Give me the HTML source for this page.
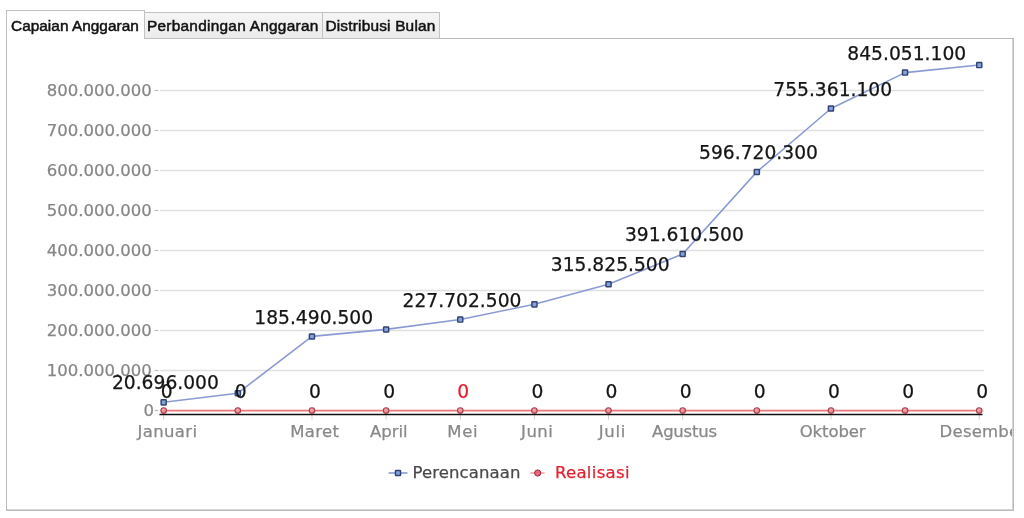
<!DOCTYPE html>
<html><head><meta charset="utf-8"><title>Capaian Anggaran</title>
<style>
html,body{margin:0;padding:0;background:#fff;}
body{width:1024px;height:518px;position:relative;overflow:hidden;font-family:"Liberation Sans",sans-serif;}
.tabs{position:absolute;left:0;top:0;height:40px;}
.tab{position:absolute;box-sizing:border-box;border:1px solid #c2c2c2;color:#111;font-size:15.4px;white-space:nowrap;line-height:20px;-webkit-text-stroke:0.5px #111;}
.tab.on{left:6px;top:10px;width:139px;height:29px;background:#fff;border-bottom:none;z-index:3;padding:5px 0 0 4px;letter-spacing:0.02px;}
.tab.t2{left:144px;top:12px;width:179px;height:27px;background:linear-gradient(#f5f5f5,#ebebeb);z-index:2;padding:3px 0 0 1.9px;letter-spacing:0.27px;}
.tab.t3{left:322px;top:12px;width:118px;height:27px;background:linear-gradient(#f5f5f5,#ebebeb);z-index:2;padding:3px 0 0 2.4px;letter-spacing:0.2px;}
.panel{position:absolute;left:6px;top:38px;width:1008px;height:473px;box-sizing:border-box;border:1px solid #b9b9b9;border-right-color:#bcbcbc;border-bottom-color:#bcbcbc;background:#fff;overflow:hidden;z-index:1;}
.panel:after{content:"";position:absolute;right:0;bottom:0;width:100%;height:100%;box-sizing:border-box;border-right:1px solid #d6d6d6;border-bottom:1px solid #d6d6d6;pointer-events:none;}
svg{position:absolute;left:-7px;top:-39px;}
svg text{font-family:"DejaVu Sans","Liberation Sans",sans-serif;stroke-width:0.25px;}
svg text.g{stroke:#888;}
svg text.d{stroke:#151515;}
</style></head><body>
<div class="tabs">
<div class="tab on">Capaian Anggaran</div>
<div class="tab t2">Perbandingan Anggaran</div>
<div class="tab t3">Distribusi Bulan</div>
</div>
<div class="panel">
<svg width="1024" height="518" viewBox="0 0 1024 518">
<defs>
<radialGradient id="rg" cx="40%" cy="35%" r="70%"><stop offset="0" stop-color="#f7a9ad"/><stop offset="1" stop-color="#e8707a"/></radialGradient>
</defs>

<line x1="160" x2="984" y1="410.5" y2="410.5" stroke="#e0e0e0" stroke-width="1.5"/>
<line x1="154.5" x2="158.3" y1="410.5" y2="410.5" stroke="#bdbdbd" stroke-width="1.2"/>
<text x="153.9" y="415.7" text-anchor="end" font-size="16.5" fill="#868686" class="g">0</text>
<line x1="160" x2="984" y1="370.5" y2="370.5" stroke="#e0e0e0" stroke-width="1.5"/>
<line x1="154.5" x2="158.3" y1="370.5" y2="370.5" stroke="#bdbdbd" stroke-width="1.2"/>
<text x="151.7" y="375.7" text-anchor="end" font-size="16.5" fill="#868686" class="g">100.000.000</text>
<line x1="160" x2="984" y1="330.5" y2="330.5" stroke="#e0e0e0" stroke-width="1.5"/>
<line x1="154.5" x2="158.3" y1="330.5" y2="330.5" stroke="#bdbdbd" stroke-width="1.2"/>
<text x="151.7" y="335.7" text-anchor="end" font-size="16.5" fill="#868686" class="g">200.000.000</text>
<line x1="160" x2="984" y1="290.5" y2="290.5" stroke="#e0e0e0" stroke-width="1.5"/>
<line x1="154.5" x2="158.3" y1="290.5" y2="290.5" stroke="#bdbdbd" stroke-width="1.2"/>
<text x="151.7" y="295.7" text-anchor="end" font-size="16.5" fill="#868686" class="g">300.000.000</text>
<line x1="160" x2="984" y1="250.5" y2="250.5" stroke="#e0e0e0" stroke-width="1.5"/>
<line x1="154.5" x2="158.3" y1="250.5" y2="250.5" stroke="#bdbdbd" stroke-width="1.2"/>
<text x="151.7" y="255.7" text-anchor="end" font-size="16.5" fill="#868686" class="g">400.000.000</text>
<line x1="160" x2="984" y1="210.5" y2="210.5" stroke="#e0e0e0" stroke-width="1.5"/>
<line x1="154.5" x2="158.3" y1="210.5" y2="210.5" stroke="#bdbdbd" stroke-width="1.2"/>
<text x="151.7" y="215.7" text-anchor="end" font-size="16.5" fill="#868686" class="g">500.000.000</text>
<line x1="160" x2="984" y1="170.5" y2="170.5" stroke="#e0e0e0" stroke-width="1.5"/>
<line x1="154.5" x2="158.3" y1="170.5" y2="170.5" stroke="#bdbdbd" stroke-width="1.2"/>
<text x="151.7" y="175.7" text-anchor="end" font-size="16.5" fill="#868686" class="g">600.000.000</text>
<line x1="160" x2="984" y1="130.5" y2="130.5" stroke="#e0e0e0" stroke-width="1.5"/>
<line x1="154.5" x2="158.3" y1="130.5" y2="130.5" stroke="#bdbdbd" stroke-width="1.2"/>
<text x="151.7" y="135.7" text-anchor="end" font-size="16.5" fill="#868686" class="g">700.000.000</text>
<line x1="160" x2="984" y1="90.5" y2="90.5" stroke="#e0e0e0" stroke-width="1.5"/>
<line x1="154.5" x2="158.3" y1="90.5" y2="90.5" stroke="#bdbdbd" stroke-width="1.2"/>
<text x="151.7" y="95.7" text-anchor="end" font-size="16.5" fill="#868686" class="g">800.000.000</text>
<line x1="163.7" x2="163.7" y1="415" y2="419.5" stroke="#cfcfcf" stroke-width="1"/>
<text x="137.4" y="437.4" font-size="16.5" textLength="59.7" lengthAdjust="spacing" fill="#888888" class="g">Januari</text>
<line x1="312.0" x2="312.0" y1="415" y2="419.5" stroke="#cfcfcf" stroke-width="1"/>
<text x="290.2" y="437.4" font-size="16.5" textLength="48.9" lengthAdjust="spacing" fill="#888888" class="g">Maret</text>
<line x1="386.1" x2="386.1" y1="415" y2="419.5" stroke="#cfcfcf" stroke-width="1"/>
<text x="370.0" y="437.4" font-size="16.5" textLength="37.5" lengthAdjust="spacing" fill="#888888" class="g">April</text>
<line x1="460.3" x2="460.3" y1="415" y2="419.5" stroke="#cfcfcf" stroke-width="1"/>
<text x="447.3" y="437.4" font-size="16.5" textLength="30.3" lengthAdjust="spacing" fill="#888888" class="g">Mei</text>
<line x1="534.4" x2="534.4" y1="415" y2="419.5" stroke="#cfcfcf" stroke-width="1"/>
<text x="521.1" y="437.4" font-size="16.5" textLength="31.7" lengthAdjust="spacing" fill="#888888" class="g">Juni</text>
<line x1="608.5" x2="608.5" y1="415" y2="419.5" stroke="#cfcfcf" stroke-width="1"/>
<text x="598.7" y="437.4" font-size="16.5" textLength="26.7" lengthAdjust="spacing" fill="#888888" class="g">Juli</text>
<line x1="682.7" x2="682.7" y1="415" y2="419.5" stroke="#cfcfcf" stroke-width="1"/>
<text x="652.1" y="437.4" font-size="16.5" textLength="64.9" lengthAdjust="spacing" fill="#888888" class="g">Agustus</text>
<line x1="831.0" x2="831.0" y1="415" y2="419.5" stroke="#cfcfcf" stroke-width="1"/>
<text x="799.7" y="437.4" font-size="16.5" textLength="65.9" lengthAdjust="spacing" fill="#888888" class="g">Oktober</text>
<line x1="979.2" x2="979.2" y1="415" y2="419.5" stroke="#cfcfcf" stroke-width="1"/>
<text x="939.6" y="437.4" font-size="16.5" textLength="86.6" lengthAdjust="spacing" fill="#888888" class="g">Desember</text>
<polyline points="163.7,402.3 237.8,393.2 312.0,336.4 386.1,329.4 460.3,319.5 534.4,304.3 608.5,284.3 682.7,254.0 756.8,171.9 831.0,108.5 905.1,72.6 979.2,65.0" fill="none" stroke="#8a9bd3" stroke-width="1.6" stroke-linejoin="round"/>
<rect x="161.1" y="399.8" width="5.1" height="5.1" rx="0.6" fill="#84a3de" stroke="#33426f" stroke-width="1.45"/>
<rect x="235.3" y="390.7" width="5.1" height="5.1" rx="0.6" fill="#84a3de" stroke="#33426f" stroke-width="1.45"/>
<rect x="309.4" y="333.9" width="5.1" height="5.1" rx="0.6" fill="#84a3de" stroke="#33426f" stroke-width="1.45"/>
<rect x="383.6" y="326.9" width="5.1" height="5.1" rx="0.6" fill="#84a3de" stroke="#33426f" stroke-width="1.45"/>
<rect x="457.7" y="317.0" width="5.1" height="5.1" rx="0.6" fill="#84a3de" stroke="#33426f" stroke-width="1.45"/>
<rect x="531.9" y="301.8" width="5.1" height="5.1" rx="0.6" fill="#84a3de" stroke="#33426f" stroke-width="1.45"/>
<rect x="606.0" y="281.7" width="5.1" height="5.1" rx="0.6" fill="#84a3de" stroke="#33426f" stroke-width="1.45"/>
<rect x="680.1" y="251.4" width="5.1" height="5.1" rx="0.6" fill="#84a3de" stroke="#33426f" stroke-width="1.45"/>
<rect x="754.3" y="169.4" width="5.1" height="5.1" rx="0.6" fill="#84a3de" stroke="#33426f" stroke-width="1.45"/>
<rect x="828.4" y="105.9" width="5.1" height="5.1" rx="0.6" fill="#84a3de" stroke="#33426f" stroke-width="1.45"/>
<rect x="902.5" y="70.0" width="5.1" height="5.1" rx="0.6" fill="#84a3de" stroke="#33426f" stroke-width="1.45"/>
<rect x="976.7" y="62.5" width="5.1" height="5.1" rx="0.6" fill="#84a3de" stroke="#33426f" stroke-width="1.45"/>
<line x1="163.7" x2="979.2" y1="410.6" y2="410.6" stroke="#ee7c7c" stroke-width="1.6"/>
<line x1="159.5" x2="982.5" y1="414.4" y2="414.4" stroke="#111" stroke-width="1.5"/>
<circle cx="163.7" cy="410.6" r="2.8" fill="url(#rg)" stroke="#a04450" stroke-width="1.1"/>
<circle cx="237.8" cy="410.6" r="2.8" fill="url(#rg)" stroke="#a04450" stroke-width="1.1"/>
<circle cx="312.0" cy="410.6" r="2.8" fill="url(#rg)" stroke="#a04450" stroke-width="1.1"/>
<circle cx="386.1" cy="410.6" r="2.8" fill="url(#rg)" stroke="#a04450" stroke-width="1.1"/>
<circle cx="460.3" cy="410.6" r="2.8" fill="url(#rg)" stroke="#a04450" stroke-width="1.1"/>
<circle cx="534.4" cy="410.6" r="2.8" fill="url(#rg)" stroke="#a04450" stroke-width="1.1"/>
<circle cx="608.5" cy="410.6" r="2.8" fill="url(#rg)" stroke="#a04450" stroke-width="1.1"/>
<circle cx="682.7" cy="410.6" r="2.8" fill="url(#rg)" stroke="#a04450" stroke-width="1.1"/>
<circle cx="756.8" cy="410.6" r="2.8" fill="url(#rg)" stroke="#a04450" stroke-width="1.1"/>
<circle cx="831.0" cy="410.6" r="2.8" fill="url(#rg)" stroke="#a04450" stroke-width="1.1"/>
<circle cx="905.1" cy="410.6" r="2.8" fill="url(#rg)" stroke="#a04450" stroke-width="1.1"/>
<circle cx="979.2" cy="410.6" r="2.8" fill="url(#rg)" stroke="#a04450" stroke-width="1.1"/>
<text x="166.7" y="398.4" text-anchor="middle" font-size="18.7" fill="#151515" stroke="#151515">0</text>
<text x="240.8" y="398.4" text-anchor="middle" font-size="18.7" fill="#151515" stroke="#151515">0</text>
<text x="315.0" y="398.4" text-anchor="middle" font-size="18.7" fill="#151515" stroke="#151515">0</text>
<text x="389.1" y="398.4" text-anchor="middle" font-size="18.7" fill="#151515" stroke="#151515">0</text>
<text x="463.3" y="398.4" text-anchor="middle" font-size="18.7" fill="#e3222f" stroke="#e3222f">0</text>
<text x="537.4" y="398.4" text-anchor="middle" font-size="18.7" fill="#151515" stroke="#151515">0</text>
<text x="611.5" y="398.4" text-anchor="middle" font-size="18.7" fill="#151515" stroke="#151515">0</text>
<text x="685.7" y="398.4" text-anchor="middle" font-size="18.7" fill="#151515" stroke="#151515">0</text>
<text x="759.8" y="398.4" text-anchor="middle" font-size="18.7" fill="#151515" stroke="#151515">0</text>
<text x="834.0" y="398.4" text-anchor="middle" font-size="18.7" fill="#151515" stroke="#151515">0</text>
<text x="908.1" y="398.4" text-anchor="middle" font-size="18.7" fill="#151515" stroke="#151515">0</text>
<text x="982.2" y="398.4" text-anchor="middle" font-size="18.7" fill="#151515" stroke="#151515">0</text>
<text x="165.4" y="389.4" text-anchor="middle" font-size="18.7" fill="#151515" class="d">20.696.000</text>
<text x="313.7" y="323.5" text-anchor="middle" font-size="18.7" fill="#151515" class="d">185.490.500</text>
<text x="462.0" y="306.6" text-anchor="middle" font-size="18.7" fill="#151515" class="d">227.702.500</text>
<text x="610.2" y="271.4" text-anchor="middle" font-size="18.7" fill="#151515" class="d">315.825.500</text>
<text x="684.4" y="241.1" text-anchor="middle" font-size="18.7" fill="#151515" class="d">391.610.500</text>
<text x="758.5" y="159.0" text-anchor="middle" font-size="18.7" fill="#151515" class="d">596.720.300</text>
<text x="832.7" y="95.6" text-anchor="middle" font-size="18.7" fill="#151515" class="d">755.361.100</text>
<text x="906.8" y="59.7" text-anchor="middle" font-size="18.7" fill="#151515" class="d">845.051.100</text>
<line x1="388.5" x2="407.5" y1="473" y2="473" stroke="#8a9bd3" stroke-width="1.6"/>
<rect x="395.45" y="470.45" width="5.1" height="5.1" rx="0.6" fill="#84a3de" stroke="#33426f" stroke-width="1.45"/>
<text x="412.4" y="478.4" font-size="16.5" textLength="108" lengthAdjust="spacing" fill="#4a4a4a" stroke="#4a4a4a">Perencanaan</text>
<line x1="530.5" x2="544.7" y1="473" y2="473" stroke="#f3a3a8" stroke-width="1.6"/>
<circle cx="537.7" cy="473" r="3.1" fill="#ee6478" stroke="#8e3040" stroke-width="1"/>
<text x="554.9" y="478.4" font-size="16.5" textLength="74.6" lengthAdjust="spacing" fill="#e3222f" stroke="#e3222f">Realisasi</text>
</svg>
</div>
</body></html>
